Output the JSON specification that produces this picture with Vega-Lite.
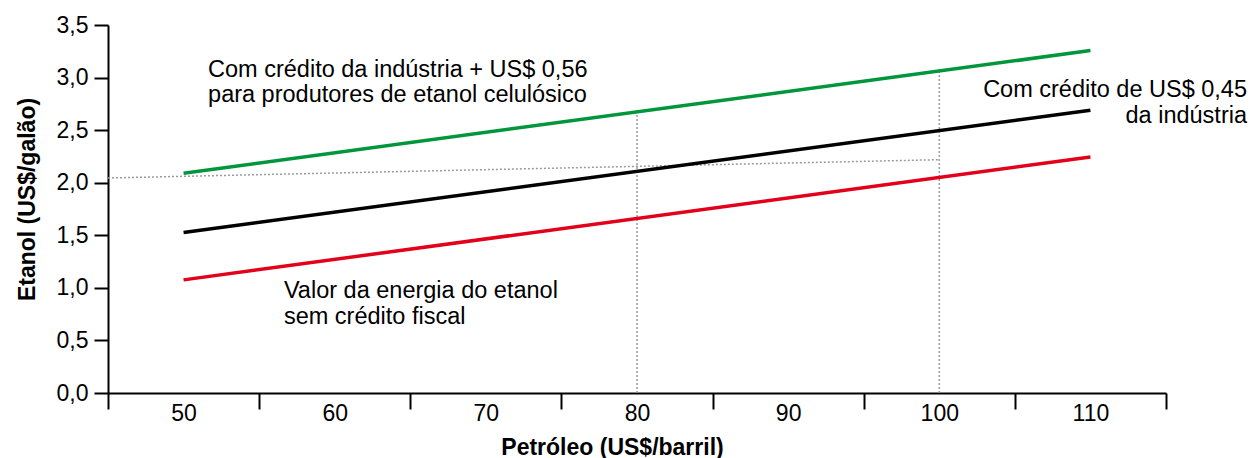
{
  "$schema": "https://vega.github.io/schema/vega-lite/v6.json",
  "width": 1058,
  "height": 368,
  "autosize": {"type": "none"},
  "padding": {"left": 108, "top": 25, "right": 86, "bottom": 65},
  "background": "white",
  "config": {"view": {"stroke": null}, "font": "Liberation Sans"},
  "datasets": {
    "series": [
      {"petroleo": 50, "etanol": 2.09, "serie": "celulosico"},
      {"petroleo": 110, "etanol": 3.257, "serie": "celulosico"},
      {"petroleo": 50, "etanol": 1.527, "serie": "industria"},
      {"petroleo": 110, "etanol": 2.69, "serie": "industria"},
      {"petroleo": 50, "etanol": 1.076, "serie": "energia"},
      {"petroleo": 110, "etanol": 2.245, "serie": "energia"}
    ],
    "guia_h": [
      {"petroleo": 45, "etanol": 2.045},
      {"petroleo": 100, "etanol": 2.219}
    ],
    "guia_v": [
      {"petroleo": 80, "base": 0, "topo": 2.674},
      {"petroleo": 100, "base": 0, "topo": 3.063}
    ],
    "rotulos_esq": [
      {"petroleo": 51.62, "etanol": 3.076, "texto": "Com crédito da indústria + US$ 0,56"},
      {"petroleo": 51.62, "etanol": 2.838, "texto": "para produtores de etanol celulósico"},
      {"petroleo": 56.64, "etanol": 0.971, "texto": "Valor da energia do etanol"},
      {"petroleo": 56.64, "etanol": 0.724, "texto": "sem crédito fiscal"}
    ],
    "rotulos_dir": [
      {"petroleo": 120.36, "etanol": 2.886, "texto": "Com crédito de US$ 0,45"},
      {"petroleo": 120.36, "etanol": 2.638, "texto": "da indústria"}
    ]
  },
  "layer": [
    {
      "data": {"name": "guia_v"},
      "mark": {"type": "rule", "color": "#9a9a9a", "strokeWidth": 1.5, "strokeDash": [2, 2]},
      "encoding": {
        "x": {"field": "petroleo", "type": "quantitative", "scale": {"domain": [45, 115], "nice": false, "zero": false},
          "axis": {
            "values": [45, 50, 55, 60, 65, 70, 75, 80, 85, 90, 95, 100, 105, 110, 115],
            "labelExpr": "datum.value % 10 == 0 ? datum.label : ''",
            "tickOpacity": {"condition": {"test": "datum.value % 10 == 0", "value": 0}, "value": 1},
            "tickSize": 16, "tickWidth": 2, "tickColor": "black",
            "domainWidth": 2, "domainColor": "black",
            "labelFontSize": 23, "labelColor": "black", "labelPadding": -7,
            "labelFlush": false, "labelOverlap": false, "grid": false,
            "title": "Petróleo (US$/barril)", "titleFontSize": 23, "titleFontWeight": "bold", "titleColor": "black",
            "titleX": 504, "titleY": 54, "titleAlign": "center", "titleBaseline": "middle"
          }},
        "y": {"field": "base", "type": "quantitative", "scale": {"domain": [0, 3.5], "nice": false, "zero": true},
          "axis": {
            "values": [0, 0.5, 1, 1.5, 2, 2.5, 3, 3.5],
            "labelExpr": "replace(format(datum.value, '.1f'), '.', ',')",
            "tickSize": 14, "tickWidth": 2, "tickColor": "black",
            "domainWidth": 2, "domainColor": "black",
            "labelFontSize": 23, "labelColor": "black", "labelPadding": 6,
            "labelFlush": false, "labelOverlap": false, "grid": false,
            "title": "Etanol (US$/galão)", "titleFontSize": 23, "titleFontWeight": "bold", "titleColor": "black",
            "titleX": -81, "titleY": 174, "titleAngle": 270, "titleAlign": "center", "titleBaseline": "middle"
          }},
        "y2": {"field": "topo"}
      }
    },
    {
      "data": {"name": "guia_h"},
      "mark": {"type": "line", "color": "#9a9a9a", "strokeWidth": 1.5, "strokeDash": [2, 2]},
      "encoding": {
        "x": {"field": "petroleo", "type": "quantitative"},
        "y": {"field": "etanol", "type": "quantitative"}
      }
    },
    {
      "data": {"name": "series"},
      "mark": {"type": "line", "strokeWidth": 3.5, "strokeCap": "butt"},
      "encoding": {
        "x": {"field": "petroleo", "type": "quantitative"},
        "y": {"field": "etanol", "type": "quantitative"},
        "color": {"field": "serie", "type": "nominal",
          "scale": {"domain": ["celulosico", "industria", "energia"], "range": ["#00963c", "#000000", "#e2001a"]},
          "legend": null}
      }
    },
    {
      "data": {"name": "rotulos_esq"},
      "mark": {"type": "text", "align": "left", "baseline": "middle", "fontSize": 23.5, "color": "black"},
      "encoding": {
        "x": {"field": "petroleo", "type": "quantitative"},
        "y": {"field": "etanol", "type": "quantitative"},
        "text": {"field": "texto"}
      }
    },
    {
      "data": {"name": "rotulos_dir"},
      "mark": {"type": "text", "align": "right", "baseline": "middle", "fontSize": 23.5, "color": "black"},
      "encoding": {
        "x": {"field": "petroleo", "type": "quantitative"},
        "y": {"field": "etanol", "type": "quantitative"},
        "text": {"field": "texto"}
      }
    }
  ]
}
